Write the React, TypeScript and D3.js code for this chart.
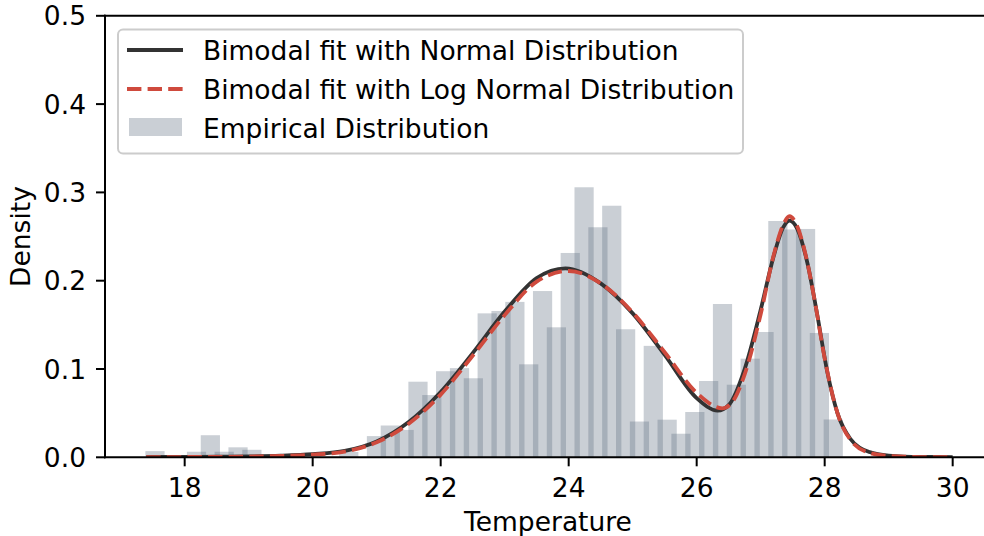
import React from "react";
import * as d3 from "d3";

// ---- data ----
const binStart = 17.386;
const binEnd = 28.2;
const barWidthData = 0.3;
const densities = [
  0.007, 0, 0, 0.0063, 0.025, 0.0063, 0.0113, 0.0085, 0, 0,
  0, 0, 0, 0, 0.006, 0, 0.024, 0.036, 0.031, 0.0856,
  0.0705, 0.0975, 0.101, 0.0895, 0.163, 0.1657, 0.176, 0.1053, 0.1883, 0.1472,
  0.2314, 0.3058, 0.2605, 0.2849, 0.145, 0.0405, 0.1262, 0.0426, 0.0267, 0.0513,
  0.0864, 0.1736, 0.0822, 0.1117, 0.1419, 0.2676, 0.258, 0.2586, 0.1408, 0.0428,
];

const normalX = [17.4, 18, 18.5, 19, 19.5, 20, 20.5, 21, 21.5, 22, 22.5, 23, 23.5, 23.95, 24.5, 25, 25.5, 26, 26.33, 26.5, 26.75, 27, 27.2, 27.35, 27.45, 27.57, 27.73, 27.88, 28.04, 28.2, 28.4, 28.7, 29, 29.5, 30];
const normalY = [0.0003, 0.0005, 0.0007, 0.001, 0.0018, 0.0035, 0.0072, 0.018, 0.04, 0.074, 0.118, 0.165, 0.203, 0.214, 0.197, 0.163, 0.116, 0.067, 0.0528, 0.059, 0.1, 0.167, 0.227, 0.26, 0.268, 0.259, 0.22, 0.163, 0.097, 0.05, 0.021, 0.006, 0.002, 0.0005, 0.0003];

const lognormX = [17.4, 18, 19, 19.5, 20, 20.5, 21, 21.5, 22, 22.5, 23, 23.5, 24, 24.5, 25, 25.5, 26, 26.4, 26.55, 26.75, 27, 27.2, 27.35, 27.45, 27.55, 27.7, 27.85, 28, 28.2, 28.4, 28.7, 29, 29.5, 30];
const lognormY = [0.0002, 0.0003, 0.0008, 0.0015, 0.003, 0.0064, 0.017, 0.038, 0.071, 0.115, 0.161, 0.199, 0.211, 0.197, 0.164, 0.119, 0.073, 0.0555, 0.062, 0.094, 0.162, 0.228, 0.263, 0.273, 0.265, 0.23, 0.175, 0.112, 0.05, 0.02, 0.005, 0.0015, 0.0003, 0.0001];

const xTicks = [18, 20, 22, 24, 26, 28, 30];
const yTicks = [0, 0.1, 0.2, 0.3, 0.4, 0.5];
const legendLabels = [
  "Bimodal fit with Normal Distribution",
  "Bimodal fit with Log Normal Distribution",
  "Empirical Distribution",
];

const W = 984;
const H = 536;
const FONT = "DejaVu Sans, Verdana, sans-serif";
const FS = 26.5;
const BLACK = "#333333";
const RED = "#cf4a3d";
const BAR = "#5d6c81";
const BAR_OP = 0.33;

export default function App() {
  const x = d3.scaleLinear().domain([16.755, 30.63]).range([105, 993]);
  const y = d3.scaleLinear().domain([0, 0.5]).range([457.3, 15.8]);
  const n = densities.length;
  const step = (binEnd - binStart) / n;
  const bars = densities.map((d, i) => ({ x0: binStart + i * step, d }));

  const line = d3
    .line<[number, number]>()
    .x((p) => x(p[0]))
    .y((p) => y(p[1]))
    .curve(d3.curveMonotoneX);
  const normalPts = normalX.map((v, i) => [v, normalY[i]] as [number, number]);
  const lognormPts = lognormX.map((v, i) => [v, lognormY[i]] as [number, number]);

  const x0 = x.range()[0];
  const yb = y(0);
  const yt = y(0.5);

  return (
    <div style={{ position: "absolute", left: 0, top: 0 }}>
      <svg width={W} height={H} style={{ display: "block", background: "#fff" }} fontFamily={FONT}>
        <defs>
          <clipPath id="plotclip">
            <rect x={x0} y={yt} width={993 - x0} height={yb - yt} />
          </clipPath>
        </defs>
        <g clipPath="url(#plotclip)">
          {bars.map((b, i) =>
            b.d > 0 ? (
              <rect
                key={i}
                x={x(b.x0)}
                y={y(b.d)}
                width={x(b.x0 + barWidthData) - x(b.x0)}
                height={yb - y(b.d)}
                fill={BAR}
                fillOpacity={BAR_OP}
              />
            ) : null
          )}
          <path d={line(normalPts) || ""} fill="none" stroke={BLACK} strokeWidth={3.8} />
          <path d={line(lognormPts) || ""} fill="none" stroke={RED} strokeWidth={3.8} strokeDasharray="14.4,6.2" />
        </g>
        {/* spines */}
        <line x1={x0} x2={x0} y1={yt} y2={yb} stroke="#000" strokeWidth={2} strokeLinecap="square" />
        <line x1={x0} x2={W} y1={yb} y2={yb} stroke="#000" strokeWidth={2} strokeLinecap="square" />
        <line x1={x0} x2={W} y1={yt} y2={yt} stroke="#000" strokeWidth={2} strokeLinecap="square" />
        {/* x ticks */}
        {xTicks.map((t) => (
          <g key={t}>
            <line x1={x(t)} x2={x(t)} y1={yb} y2={yb + 9} stroke="#000" strokeWidth={2} />
            <text x={x(t)} y={497} fontSize={FS} textAnchor="middle" fill="#000">
              {t}
            </text>
          </g>
        ))}
        {/* y ticks */}
        {yTicks.map((t) => (
          <g key={t}>
            <line x1={x0 - 9} x2={x0} y1={y(t)} y2={y(t)} stroke="#000" strokeWidth={2} />
            <text x={86} y={y(t) + 9.5} fontSize={FS} textAnchor="end" fill="#000">
              {d3.format(".1f")(t)}
            </text>
          </g>
        ))}
        <text x={548} y={531} fontSize={FS} textAnchor="middle" fill="#000">
          Temperature
        </text>
        <text transform={`translate(30,${(yb + yt) / 2}) rotate(-90)`} fontSize={FS} textAnchor="middle" fill="#000">
          Density
        </text>
        {/* legend */}
        <g>
          <rect x={118} y={29.5} width={625} height={124} rx={5} ry={5} fill="#fff" fillOpacity={0.8} stroke="#cccccc" strokeWidth={2} />
          <line x1={127} x2={183} y1={50} y2={50} stroke={BLACK} strokeWidth={3.8} />
          <line x1={127} x2={183} y1={89} y2={89} stroke={RED} strokeWidth={3.8} strokeDasharray="14.4,6.2" />
          <rect x={129} y={118} width={53} height={18} fill={BAR} fillOpacity={BAR_OP} />
          {legendLabels.map((l, i) => (
            <text key={l} x={203} y={59.5 + i * 39} fontSize={FS} fill="#000">
              {l}
            </text>
          ))}
        </g>
      </svg>
    </div>
  );
}
